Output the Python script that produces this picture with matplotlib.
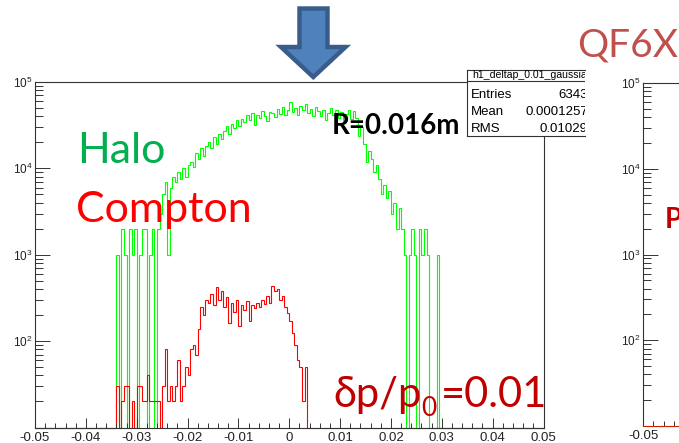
import numpy as np
import matplotlib
matplotlib.use('Agg')
import matplotlib.pyplot as plt
from matplotlib.patches import Polygon
from matplotlib.ticker import FixedLocator, LogLocator, MultipleLocator, NullFormatter

plt.rcParams['font.family'] = ['Liberation Sans', 'DejaVu Sans']
plt.rcParams['mathtext.default'] = 'regular'

W, H = 679, 443

# histogram binning for delta p / p
bin_width = 0.0005
x_range = (-0.05, 0.05)
y_range = (10, 1e5)

# halo histogram (green), counts per bin starting at halo_start
halo_start = -0.034
halo_counts = [1000, 0, 2000, 1000, 0, 2000, 1000, 2000, 0, 1000, 2000, 2000, 0, 1000, 2000, 0, 2000,
               3000, 5000, 7000, 1000, 6000, 8000, 7000,
               9000, 7500, 10000, 8000, 11000,
               12000, 10500, 15000, 13000, 17000, 14000, 18000,
               20000, 17000, 23000, 19000, 25000, 22000,
               27000, 31000, 25000, 33000, 29000, 36000, 31000, 37000,
               34000, 41000, 36000, 44000, 32000, 42000, 38000, 46000, 40000, 35000, 45000,
               44000, 39000, 49000, 43000, 52000, 41000, 47000, 58000, 45000, 50000, 42000, 53000,
               47000, 55000, 44000, 49000, 40000, 51000,
               46000, 40000, 48000, 36000, 44000, 50000, 41000, 47000, 38000, 45000, 35000, 43000,
               48000, 37000, 46000,
               38000, 24000, 30000,
               19000, 12000, 16000,
               13000, 9000, 11000,
               7500, 5000, 6500, 4500,
               5500, 3000, 4000, 2000, 3500,
               2000, 1000,
               0, 1000, 2000, 1000, 0, 2000, 1000, 2000, 1000, 0, 0, 0, 1000]

# compton histogram (red)
compton_start = -0.034
compton_counts = [30, 0, 20, 30, 30, 0, 20, 0, 30, 30, 20, 20, 40, 20, 20, 20, 20, 0, 30, 80,
                  20, 30, 20, 30, 60, 20, 30, 50, 40, 80, 90, 70, 140, 250, 200, 300, 280, 350,
                  260, 420, 300, 380, 250, 320, 160, 280, 220, 300, 150, 260, 230, 290, 170, 260,
                  240, 280, 250, 300, 270, 330, 280, 430, 380, 400, 300, 330, 250, 210, 170, 125,
                  90, 60, 50, 20, 50]

x_ticks = [-0.05, -0.04, -0.03, -0.02, -0.01, 0, 0.01, 0.02, 0.03, 0.04, 0.05]
x_tick_labels = ['-0.05', '-0.04', '-0.03', '-0.02', '-0.01', '0', '0.01', '0.02', '0.03', '0.04', '0.05']
y_ticks = [1e2, 1e3, 1e4, 1e5]

stats_title = 'h1_deltap_0.01_gaussian'
stats_names = ['Entries', 'Mean', 'RMS']
stats_values = ['6343', '0.0001257', '0.01029']

n_bins = int(round((x_range[1] - x_range[0]) / bin_width))
edges = x_range[0] + bin_width * np.arange(n_bins + 1)


def full_hist(start, counts):
    arr = np.zeros(n_bins)
    i0 = int(round((start - x_range[0]) / bin_width))
    arr[i0:i0 + len(counts)] = counts
    # empty bins are drawn on the bottom of the frame, like ROOT does
    return np.where(arr > 0, arr, y_range[0])


def px(x, y):
    return x / W, 1 - y / H


def style_axis(ax, xticks, xlabels):
    ax.set_yscale('log')
    ax.set_xlim(*x_range)
    ax.set_ylim(*y_range)
    ax.xaxis.set_major_locator(FixedLocator(xticks))
    ax.set_xticklabels(xlabels)
    ax.xaxis.set_minor_locator(MultipleLocator(0.002))
    ax.yaxis.set_major_locator(FixedLocator(y_ticks))
    ax.yaxis.set_minor_locator(LogLocator(base=10, subs=np.arange(2, 10)))
    ax.yaxis.set_minor_formatter(NullFormatter())
    ax.tick_params(which='both', direction='in', color='#333333', width=0.7,
                   labelcolor='#222222', top=False, right=False)
    ax.tick_params(axis='y', which='major', length=10.8, pad=2, labelsize=8.5)
    ax.tick_params(axis='y', which='minor', length=5.8)
    ax.tick_params(axis='x', which='major', length=7.2, pad=3, labelsize=9.5)
    ax.tick_params(axis='x', which='minor', length=3.6)
    for s in ax.spines.values():
        s.set_color('#333333')
        s.set_linewidth(0.8)


fig = plt.figure(figsize=(W / 100, H / 100), dpi=100)

# main histogram pad
ax = fig.add_axes([35 / W, 1 - 427.5 / H, (543.5 - 35) / W, (427.5 - 82) / H])
style_axis(ax, x_ticks, x_tick_labels)
ax.stairs(full_hist(halo_start, halo_counts), edges, baseline=None, color='#00ff00', lw=0.8, clip_on=False)
ax.stairs(full_hist(compton_start, compton_counts), edges, baseline=None, color='#ff0000', lw=0.8, clip_on=False)

# stats box
sax = fig.add_axes([466.7 / W, 1 - 136 / H, (585 - 466.7) / W, (136 - 70) / H])
sax.set_xlim(466.7, 585)
sax.set_ylim(136, 70)
sax.set_xticks([])
sax.set_yticks([])
for s in sax.spines.values():
    s.set_color('#333333')
    s.set_linewidth(0.8)
sax.spines['right'].set_visible(False)
sax.axhline(80.7, color='#333333', lw=0.8)
sax.text(472, 75.5, stats_title, fontsize=7.6, va='center', ha='left', clip_on=True)
for name, val, yb in zip(stats_names, stats_values, [98.5, 115, 131.5]):
    sax.text(471, yb, name, fontsize=9.5, va='baseline', ha='left', clip_on=True)
    sax.text(588, yb, val, fontsize=9.5, va='baseline', ha='right', clip_on=True)

# neighbouring pad (cut off at the right edge)
rax = fig.add_axes([643.3 / W, 1 - 426 / H, 509 / W, (426 - 83) / H])
style_axis(rax, x_ticks[:1], x_tick_labels[:1])
rax.spines['bottom'].set_color('#cc2200')

# slide annotations
slide = ['Lato', 'DejaVu Sans']
fig.text(*px(77, 163), 'Halo', color='#00b050', fontsize=31, family=slide, va='baseline')
fig.text(*px(76, 221.7), 'Compton', color='#ff0000', fontsize=31, family=slide, va='baseline')
fig.text(*px(332, 134), 'R=0.016m', color='black', fontsize=20, fontweight='bold', family=slide, va='baseline')
fig.text(*px(333, 407), 'δp/p', color='#c00000', fontsize=30, family=slide, va='baseline')
fig.text(*px(421, 416.5), '0', color='#c00000', fontsize=19, family=slide, va='baseline')
fig.text(*px(441, 407), '=0.01', color='#c00000', fontsize=30, family=slide, va='baseline')
fig.text(*px(577, 56.7), 'QF6X', color='#c0504d', fontsize=28, family=slide, va='baseline')
fig.text(*px(665, 228), 'P', color='#c00000', fontsize=20, fontweight='bold', family=slide, va='baseline')

# blue arrow pointing at the pad
arrow_pts = [px(299.5, 8.5), px(327.5, 8.5), px(327.5, 47), px(345.5, 47),
             px(313.3, 77), px(281, 47), px(299.5, 47)]
fig.patches.append(Polygon(arrow_pts, closed=True, transform=fig.transFigure,
                           facecolor='#4f81bd', edgecolor='#385d8a', lw=3.2, joinstyle='miter'))

fig.savefig('out.png', dpi=100)
